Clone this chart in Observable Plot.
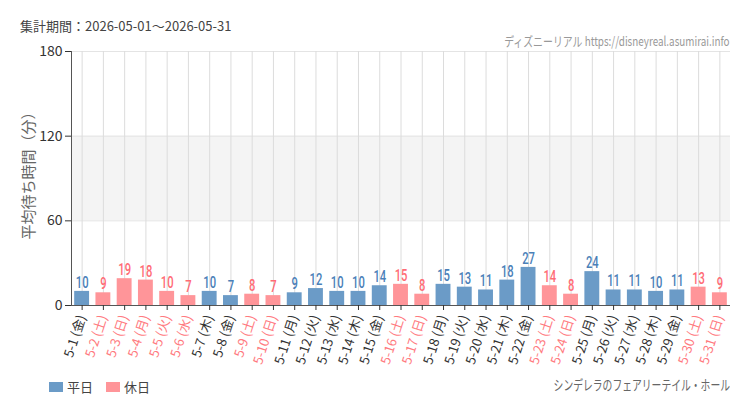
<!DOCTYPE html>
<html><head><meta charset="utf-8">
<script src="https://cdn.jsdelivr.net/npm/d3@7"></script>
<script src="https://cdn.jsdelivr.net/npm/@observablehq/plot@0.6"></script>
<style>
body{margin:0;background:#fff;}
#wrap{position:relative;width:750px;height:410px;overflow:hidden;font-family:"Noto Sans CJK JP","Noto Sans",sans-serif;}
#wrap svg{position:absolute;left:0;top:0;}
.title{position:absolute;left:20px;top:16px;font-size:13px;color:#444;white-space:nowrap;}
.site{position:absolute;right:20px;top:31px;font-size:13px;color:#999;white-space:nowrap;transform:scaleX(0.76);transform-origin:right center;}
.attr{position:absolute;right:20px;top:374px;font-size:14px;color:#666;white-space:nowrap;transform:scaleX(0.7);transform-origin:right center;}
.ylab{position:absolute;left:27px;top:172px;font-size:15px;color:#666;white-space:nowrap;transform:translate(-50%,-50%) rotate(-90deg);}
.legend{position:absolute;left:49px;top:377px;font-size:13px;color:#444;display:flex;align-items:center;}
.legend .sw{display:inline-block;width:14px;height:10px;margin-right:4px;}
.legend .item{display:flex;align-items:center;margin-right:13px;}
</style>
</head><body>
<div id="wrap">
  <div class="title">集計期間：2026-05-01～2026-05-31</div>
  <div class="site">ディズニーリアル https://disneyreal.asumirai.info</div>
  <div class="attr">シンデレラのフェアリーテイル・ホール</div>
  <div class="ylab" id="ylab"></div>
  <div class="legend"><span class="item"><span class="sw" style="background:#6b9bc7"></span>平日</span><span class="item"><span class="sw" style="background:#ff9599"></span>休日</span></div>
</div>
<script>
const dates = ["5-1","5-2","5-3","5-4","5-5","5-6","5-7","5-8","5-9","5-10","5-11","5-12","5-13","5-14","5-15","5-16","5-17","5-18","5-19","5-20","5-21","5-22","5-23","5-24","5-25","5-26","5-27","5-28","5-29","5-30","5-31"];
const weekdays = ["金","土","日","月","火","水","木","金","土","日","月","火","水","木","金","土","日","月","火","水","木","金","土","日","月","火","水","木","金","土","日"];
const dayTypes = ["平日","休日","休日","休日","休日","休日","平日","平日","休日","休日","平日","平日","平日","平日","平日","休日","休日","平日","平日","平日","平日","平日","休日","休日","平日","平日","平日","平日","平日","休日","休日"];
const waits = [10,9,19,18,10,7,10,7,8,7,9,12,10,10,14,15,8,15,13,11,18,27,14,8,24,11,11,10,11,13,9];
const yTicks = [0,60,120,180];
const bandLow = [60];
const bandHigh = [120];
const yLabel = "平均待ち時間（分）";

const barColor = {"平日":"#6b9bc7","休日":"#ff9599"};
const valueColor = {"平日":"#4a80b8","休日":"#ff6b75"};
const tickColor = {"平日":"#333","休日":"#ff7a80"};

document.getElementById("ylab").textContent = yLabel;

const data = dates.map((d,i)=>({date:d, wd:weekdays[i], type:dayTypes[i], value:waits[i], label:`${d} (${weekdays[i]})`}));
const band = bandLow.map((lo,i)=>({lo, hi:bandHigh[i]}));

const chart = Plot.plot({
  width:750, height:410,
  marginTop:51, marginBottom:105, marginLeft:71, marginRight:20,
  style:{fontFamily:"'Noto Sans CJK JP','Noto Sans',sans-serif", background:"transparent"},
  x:{domain:data.map(d=>d.label), paddingInner:0.3, paddingOuter:0.15, round:false, axis:null},
  y:{domain:[0,180], axis:null},
  marks:[
    Plot.rect(band, {y1:"lo", y2:"hi", fill:"#f4f4f4"}),
    Plot.ruleY([60,120,180], {stroke:"#e4e4e4"}),
    Plot.gridX(data.map(d=>d.label), {stroke:"#dcdcdc", strokeOpacity:1}),
    Plot.barY(data, {x:"label", y:"value", fill:d=>barColor[d.type]}),
    Plot.text(data, {x:"label", y:"value", text:d=>String(d.value), dy:-9, fill:d=>valueColor[d.type], fontSize:17, fontWeight:500, fontFamily:"'Roboto','Noto Sans',sans-serif", className:"vals"}),
    Plot.ruleY([0], {stroke:"#555"}),
    Plot.frame({anchor:"left", stroke:"#555"}),
    Plot.axisX({tickSize:5, tickFormat:()=>"", stroke:"#333", label:null}),
    Plot.axisY({ticks:yTicks, tickSize:6, stroke:"#333", fill:"#333", fontSize:14, label:null, tickPadding:3}),
    Plot.text(data, {x:"label", frameAnchor:"bottom", dy:10, rotate:-72, textAnchor:"end", lineAnchor:"middle", text:"label", fill:d=>tickColor[d.type], fontSize:13})
  ]
});
// condense the value labels horizontally
d3.select(chart).selectAll("g.vals text").each(function(){
  const t = this.getAttribute("transform");
  if (t) {
    this.setAttribute("transform", t + " scale(0.66,1)");
  } else {
    const x = +this.getAttribute("x") || 0, y = +this.getAttribute("y") || 0;
    this.removeAttribute("x"); this.removeAttribute("y");
    this.setAttribute("transform", `translate(${x},${y}) scale(0.66,1)`);
  }
});
document.getElementById("wrap").prepend(chart);
</script>
</body></html>
